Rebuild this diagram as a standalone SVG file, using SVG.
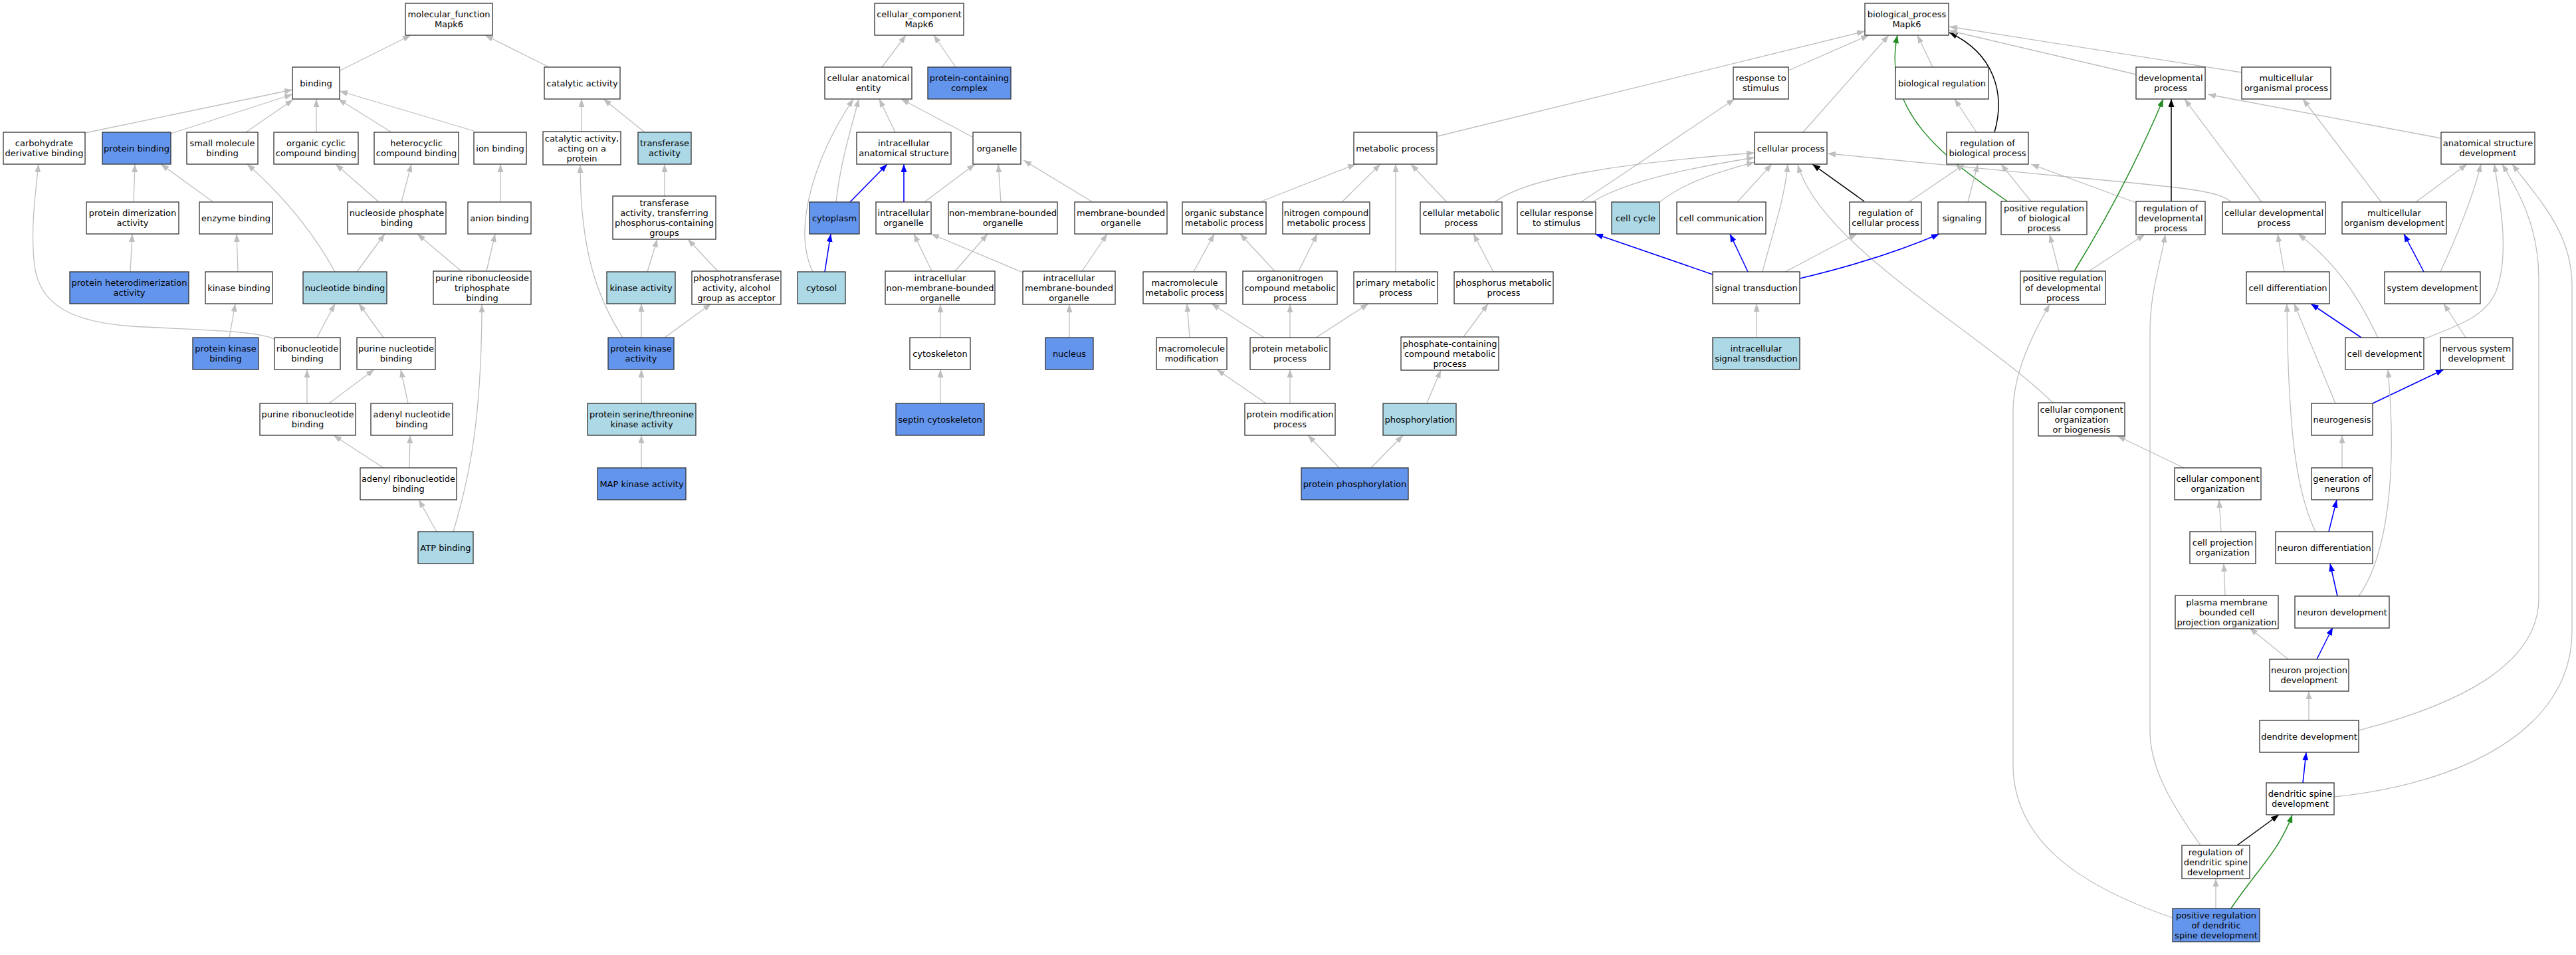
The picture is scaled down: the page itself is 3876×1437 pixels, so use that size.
<svg xmlns="http://www.w3.org/2000/svg" width="3876" height="1437" viewBox="0 0 3876 1437">
<style>
.nd rect{fill:#fff;stroke:#333;stroke-width:1.3}
.nd.b rect{fill:#6495ed}
.nd.l rect{fill:#add8e6}
text{font-family:"DejaVu Sans","Liberation Sans",sans-serif;font-size:13px;text-anchor:middle;fill:#000}
#edges path{fill:none;stroke:#bebebe;stroke-width:1.3;marker-end:url(#ag)}
#edges path.u{stroke:#0000ff;stroke-width:1.6;marker-end:url(#au)}
#edges path.k{stroke:#000;stroke-width:1.5;marker-end:url(#ak)}
#edges path.v{stroke:#228b22;stroke-width:1.5;marker-end:url(#av)}
</style>
<defs>
<marker id="ag" viewBox="0 0 12 9" refX="12" refY="4.5" markerWidth="12" markerHeight="9" markerUnits="userSpaceOnUse" orient="auto"><path d="M0,0 L12,4.5 L0,9 z" fill="#bebebe"/></marker>
<marker id="au" viewBox="0 0 12 9" refX="12" refY="4.5" markerWidth="12" markerHeight="9" markerUnits="userSpaceOnUse" orient="auto"><path d="M0,0 L12,4.5 L0,9 z" fill="#0000ff"/></marker>
<marker id="ak" viewBox="0 0 12 9" refX="12" refY="4.5" markerWidth="12" markerHeight="9" markerUnits="userSpaceOnUse" orient="auto"><path d="M0,0 L12,4.5 L0,9 z" fill="#000"/></marker>
<marker id="av" viewBox="0 0 12 9" refX="12" refY="4.5" markerWidth="12" markerHeight="9" markerUnits="userSpaceOnUse" orient="auto"><path d="M0,0 L12,4.5 L0,9 z" fill="#228b22"/></marker>
</defs>
<rect width="3876" height="1437" fill="#fff"/>
<g id="edges">
<path d="M512,106 L618,53"/>
<path d="M824,100 L730,53"/>
<path d="M128,200 L440,135"/>
<path d="M257,201 L440,142"/>
<path d="M370,199 L441,150"/>
<path d="M476,199 L476,149"/>
<path d="M589,199 L509,149"/>
<path d="M713,197 L511,137"/>
<path d="M875,198 L875,149"/>
<path d="M970,199 L908,149"/>
<path d="M201,304 L203,247"/>
<path d="M321,304 L242,247"/>
<path d="M570,304 L505,247"/>
<path d="M604,304 L619,247"/>
<path d="M753,304 L753,247"/>
<path d="M1000,295 L1000,247"/>
<path d="M196,409 L199,352"/>
<path d="M358,409 L356,352"/>
<path d="M504,409 Q455,320 372,247"/>
<path d="M537,409 L579,352"/>
<path d="M694,408 L628,352"/>
<path d="M732,408 L745,352"/>
<path d="M974,409 L989,360"/>
<path d="M1080,408 L1035,360"/>
<path d="M345,508 L354,457"/>
<path d="M477,508 L504,457"/>
<path d="M577,508 L540,457"/>
<path d="M414,511 C390,497 300,497 200,491 C110,485 60,460 52,400 C46,350 52,300 58,247"/>
<path d="M965,508 L965,457"/>
<path d="M1000,508 L1070,457"/>
<path d="M937,508 C900,450 873,380 873,248"/>
<path d="M462,607 L462,556"/>
<path d="M495,607 L563,556"/>
<path d="M614,607 L603,556"/>
<path d="M965,607 L965,556"/>
<path d="M577,704 L502,655"/>
<path d="M616,704 L617,655"/>
<path d="M965,704 L965,655"/>
<path d="M657,800 L630,752"/>
<path d="M682,800 C700,740 725,650 725,458"/>
<path d="M1327,101 L1363,53"/>
<path d="M1438,101 L1405,53"/>
<path d="M1347,199 L1323,149"/>
<path d="M1463,206 L1356,149"/>
<path d="M1258,304 C1265,240 1282,190 1292,149"/>
<path d="M1223,409 C1190,340 1230,230 1284,149"/>
<path class="u" d="M1279,304 L1335,247"/>
<path class="u" d="M1360,304 L1360,247"/>
<path d="M1391,304 L1467,247"/>
<path d="M1506,304 L1502,247"/>
<path d="M1644,304 L1540,241"/>
<path class="u" d="M1241,409 L1250,352"/>
<path d="M1402,408 L1375,352"/>
<path d="M1437,408 L1486,352"/>
<path d="M1539,410 L1401,352"/>
<path d="M1628,408 L1666,352"/>
<path d="M1415,508 L1415,458"/>
<path d="M1609,508 L1609,458"/>
<path d="M1415,607 L1415,556"/>
<path d="M2691,106 L2812,53"/>
<path d="M2163,205 L2806,47"/>
<path d="M2713,199 L2842,53"/>
<path d="M2908,101 L2885,53"/>
<path class="k" d="M3001,199 C3018,140 3000,80 2933,49"/>
<path class="v" d="M3022,304 C2930,240 2830,170 2855,53"/>
<path d="M3214,112 L2933,46"/>
<path d="M3373,109 L2933,40"/>
<path d="M1898,303 L2040,247"/>
<path d="M2020,303 L2077,247"/>
<path d="M2100,409 L2100,247"/>
<path d="M2176,303 L2123,247"/>
<path d="M2249,304 C2300,265 2450,245 2640,230"/>
<path d="M2379,304 L2610,149"/>
<path d="M2396,304 C2450,270 2560,250 2640,237"/>
<path d="M2497,304 C2540,270 2600,255 2640,244"/>
<path d="M2614,304 L2666,247"/>
<path d="M2652,409 C2670,340 2685,300 2690,247"/>
<path class="k" d="M2805,303 L2727,247"/>
<path d="M2872,304 L2956,247"/>
<path d="M2961,304 L2976,247"/>
<path d="M3056,303 L3011,247"/>
<path d="M3214,305 L3056,247"/>
<path d="M2974,199 L2941,149"/>
<path d="M3357,304 C3340,288 3300,283 3100,265 L2750,231"/>
<path d="M3403,304 L3287,149"/>
<path d="M3673,208 L3322,142"/>
<path class="k" d="M3267,303 L3267,149"/>
<path class="v" d="M3121,408 Q3200,280 3255,149"/>
<path d="M3583,304 L3465,149"/>
<path d="M3635,304 L3712,247"/>
<path class="u" d="M3647,409 L3617,352"/>
<path d="M3672,409 C3690,370 3720,300 3733,247"/>
<path d="M3437,409 L3427,352"/>
<path d="M3578,508 C3550,450 3520,400 3458,352"/>
<path class="u" d="M3553,508 L3477,457"/>
<path d="M3647,510 C3700,490 3740,475 3755,440 C3775,390 3765,320 3753,247"/>
<path d="M3710,508 L3677,457"/>
<path d="M3514,607 L3452,457"/>
<path class="u" d="M3570,607 L3677,556"/>
<path d="M3484,800 C3455,740 3443,650 3441,457"/>
<path d="M3524,704 L3524,655"/>
<path class="u" d="M3504,800 L3516,752"/>
<path class="u" d="M3517,897 L3506,848"/>
<path d="M3549,897 C3590,840 3608,720 3593,556"/>
<path class="u" d="M3486,992 L3510,944"/>
<path d="M3443,992 L3385,945"/>
<path d="M3474,1084 L3474,1040"/>
<path class="u" d="M3465,1178 L3470,1132"/>
<path class="k" d="M3366,1272 L3429,1226"/>
<path class="v" d="M3357,1367 C3395,1310 3430,1280 3449,1226"/>
<path d="M3334,1367 L3334,1322"/>
<path d="M3549,1099 C3700,1060 3820,1000 3820,900 L3820,420 C3820,340 3790,290 3765,247"/>
<path d="M3512,1199 C3700,1180 3870,1100 3870,950 L3870,430 C3870,350 3820,300 3780,247"/>
<path d="M3311,1272 C3260,1200 3235,1150 3235,1100 L3235,500 C3235,440 3250,400 3258,353"/>
<path d="M3269,1381 C3120,1330 3029,1260 3029,1150 L3029,620 C3029,560 3060,500 3084,458"/>
<path d="M3089,606 C2980,500 2740,370 2705,248"/>
<path d="M3286,704 L3186,656"/>
<path d="M3342,800 L3339,752"/>
<path d="M3348,896 L3346,848"/>
<path d="M3098,408 L3084,353"/>
<path d="M3143,408 L3227,353"/>
<path class="u" d="M2577,413 L2400,352"/>
<path class="u" d="M2630,409 L2603,352"/>
<path class="u" d="M2708,419 Q2830,390 2918,352"/>
<path d="M2686,409 L2794,352"/>
<path d="M2643,508 L2643,457"/>
<path d="M2247,409 L2217,352"/>
<path d="M1796,409 L1827,352"/>
<path d="M1918,408 L1866,352"/>
<path d="M1954,408 L1982,352"/>
<path d="M1790,508 L1786,457"/>
<path d="M1902,508 L1823,457"/>
<path d="M1941,508 L1941,458"/>
<path d="M1980,508 L2059,457"/>
<path d="M2202,507 L2239,457"/>
<path d="M1905,607 L1831,556"/>
<path d="M1941,607 L1941,556"/>
<path d="M2015,704 L1968,655"/>
<path d="M2063,704 L2111,655"/>
<path d="M2147,606 L2168,557"/>
</g>
<g id="n1" class="nd"><rect x="610" y="5" width="131" height="48"/><text x="675.5" y="26">molecular_function</text><text x="675.5" y="41">Mapk6</text></g>
<g id="n2" class="nd"><rect x="440" y="101" width="71" height="48"/><text x="475.5" y="129.5">binding</text></g>
<g id="n3" class="nd"><rect x="819" y="101" width="114" height="48"/><text x="876" y="129.5">catalytic activity</text></g>
<g id="n4" class="nd"><rect x="5" y="199" width="123" height="48"/><text x="66.5" y="220">carbohydrate</text><text x="66.5" y="235">derivative binding</text></g>
<g id="n5" class="nd b"><rect x="154" y="199" width="103" height="48"/><text x="205.5" y="227.5">protein binding</text></g>
<g id="n6" class="nd"><rect x="281" y="199" width="107" height="48"/><text x="334.5" y="220">small molecule</text><text x="334.5" y="235">binding</text></g>
<g id="n7" class="nd"><rect x="412" y="199" width="127" height="48"/><text x="475.5" y="220">organic cyclic</text><text x="475.5" y="235">compound binding</text></g>
<g id="n8" class="nd"><rect x="563" y="199" width="127" height="48"/><text x="626.5" y="220">heterocyclic</text><text x="626.5" y="235">compound binding</text></g>
<g id="n9" class="nd"><rect x="713" y="199" width="79" height="48"/><text x="752.5" y="227.5">ion binding</text></g>
<g id="n10" class="nd"><rect x="817" y="198" width="117" height="50"/><text x="875.5" y="212.5">catalytic activity,</text><text x="875.5" y="227.5">acting on a</text><text x="875.5" y="242.5">protein</text></g>
<g id="n11" class="nd l"><rect x="960" y="199" width="80" height="48"/><text x="1000" y="220">transferase</text><text x="1000" y="235">activity</text></g>
<g id="n12" class="nd"><rect x="130" y="304" width="139" height="48"/><text x="199.5" y="325">protein dimerization</text><text x="199.5" y="340">activity</text></g>
<g id="n13" class="nd"><rect x="300" y="304" width="110" height="48"/><text x="355" y="332.5">enzyme binding</text></g>
<g id="n14" class="nd"><rect x="523" y="304" width="148" height="48"/><text x="597" y="325">nucleoside phosphate</text><text x="597" y="340">binding</text></g>
<g id="n15" class="nd"><rect x="704" y="304" width="95" height="48"/><text x="751.5" y="332.5">anion binding</text></g>
<g id="n16" class="nd"><rect x="922" y="295" width="155" height="65"/><text x="999.5" y="309.5">transferase</text><text x="999.5" y="324.5">activity, transferring</text><text x="999.5" y="339.5">phosphorus-containing</text><text x="999.5" y="354.5">groups</text></g>
<g id="n17" class="nd b"><rect x="105" y="409" width="179" height="48"/><text x="194.5" y="430">protein heterodimerization</text><text x="194.5" y="445">activity</text></g>
<g id="n18" class="nd"><rect x="309" y="409" width="101" height="48"/><text x="359.5" y="437.5">kinase binding</text></g>
<g id="n19" class="nd l"><rect x="456" y="409" width="126" height="48"/><text x="519" y="437.5">nucleotide binding</text></g>
<g id="n20" class="nd"><rect x="652" y="408" width="147" height="50"/><text x="725.5" y="422.5">purine ribonucleoside</text><text x="725.5" y="437.5">triphosphate</text><text x="725.5" y="452.5">binding</text></g>
<g id="n21" class="nd l"><rect x="913" y="409" width="103" height="48"/><text x="964.5" y="437.5">kinase activity</text></g>
<g id="n22" class="nd"><rect x="1041" y="408" width="134" height="50"/><text x="1108" y="422.5">phosphotransferase</text><text x="1108" y="437.5">activity, alcohol</text><text x="1108" y="452.5">group as acceptor</text></g>
<g id="n23" class="nd b"><rect x="290" y="508" width="99" height="48"/><text x="339.5" y="529">protein kinase</text><text x="339.5" y="544">binding</text></g>
<g id="n24" class="nd"><rect x="413" y="508" width="99" height="48"/><text x="462.5" y="529">ribonucleotide</text><text x="462.5" y="544">binding</text></g>
<g id="n25" class="nd"><rect x="537" y="508" width="118" height="48"/><text x="596" y="529">purine nucleotide</text><text x="596" y="544">binding</text></g>
<g id="n26" class="nd b"><rect x="915" y="508" width="99" height="48"/><text x="964.5" y="529">protein kinase</text><text x="964.5" y="544">activity</text></g>
<g id="n27" class="nd"><rect x="391" y="607" width="144" height="48"/><text x="463" y="628">purine ribonucleotide</text><text x="463" y="643">binding</text></g>
<g id="n28" class="nd"><rect x="558" y="607" width="123" height="48"/><text x="619.5" y="628">adenyl nucleotide</text><text x="619.5" y="643">binding</text></g>
<g id="n29" class="nd l"><rect x="884" y="607" width="163" height="48"/><text x="965.5" y="628">protein serine/threonine</text><text x="965.5" y="643">kinase activity</text></g>
<g id="n30" class="nd"><rect x="542" y="704" width="145" height="48"/><text x="614.5" y="725">adenyl ribonucleotide</text><text x="614.5" y="740">binding</text></g>
<g id="n31" class="nd b"><rect x="899" y="704" width="133" height="48"/><text x="965.5" y="732.5">MAP kinase activity</text></g>
<g id="n32" class="nd l"><rect x="629" y="800" width="83" height="48"/><text x="670.5" y="828.5">ATP binding</text></g>
<g id="n33" class="nd"><rect x="1316" y="5" width="134" height="48"/><text x="1383" y="26">cellular_component</text><text x="1383" y="41">Mapk6</text></g>
<g id="n34" class="nd"><rect x="1241" y="101" width="131" height="48"/><text x="1306.5" y="122">cellular anatomical</text><text x="1306.5" y="137">entity</text></g>
<g id="n35" class="nd b"><rect x="1396" y="101" width="125" height="48"/><text x="1458.5" y="122">protein-containing</text><text x="1458.5" y="137">complex</text></g>
<g id="n36" class="nd"><rect x="1289" y="199" width="142" height="48"/><text x="1360" y="220">intracellular</text><text x="1360" y="235">anatomical structure</text></g>
<g id="n37" class="nd"><rect x="1464" y="199" width="72" height="48"/><text x="1500" y="227.5">organelle</text></g>
<g id="n38" class="nd b"><rect x="1218" y="304" width="75" height="48"/><text x="1255.5" y="332.5">cytoplasm</text></g>
<g id="n39" class="nd"><rect x="1318" y="304" width="83" height="48"/><text x="1359.5" y="325">intracellular</text><text x="1359.5" y="340">organelle</text></g>
<g id="n40" class="nd"><rect x="1427" y="304" width="164" height="48"/><text x="1509" y="325">non-membrane-bounded</text><text x="1509" y="340">organelle</text></g>
<g id="n41" class="nd"><rect x="1617" y="304" width="139" height="48"/><text x="1686.5" y="325">membrane-bounded</text><text x="1686.5" y="340">organelle</text></g>
<g id="n42" class="nd l"><rect x="1200" y="409" width="72" height="48"/><text x="1236" y="437.5">cytosol</text></g>
<g id="n43" class="nd"><rect x="1332" y="408" width="165" height="50"/><text x="1414.5" y="422.5">intracellular</text><text x="1414.5" y="437.5">non-membrane-bounded</text><text x="1414.5" y="452.5">organelle</text></g>
<g id="n44" class="nd"><rect x="1539" y="408" width="139" height="50"/><text x="1608.5" y="422.5">intracellular</text><text x="1608.5" y="437.5">membrane-bounded</text><text x="1608.5" y="452.5">organelle</text></g>
<g id="n45" class="nd"><rect x="1369" y="508" width="91" height="48"/><text x="1414.5" y="536.5">cytoskeleton</text></g>
<g id="n46" class="nd b"><rect x="1573" y="508" width="72" height="48"/><text x="1609" y="536.5">nucleus</text></g>
<g id="n47" class="nd b"><rect x="1348" y="607" width="133" height="48"/><text x="1414.5" y="635.5">septin cytoskeleton</text></g>
<g id="n48" class="nd"><rect x="2806" y="5" width="126" height="48"/><text x="2869" y="26">biological_process</text><text x="2869" y="41">Mapk6</text></g>
<g id="n49" class="nd"><rect x="2608" y="101" width="83" height="48"/><text x="2649.5" y="122">response to</text><text x="2649.5" y="137">stimulus</text></g>
<g id="n50" class="nd"><rect x="2852" y="101" width="140" height="48"/><text x="2922" y="129.5">biological regulation</text></g>
<g id="n51" class="nd"><rect x="3214" y="101" width="104" height="48"/><text x="3266" y="122">developmental</text><text x="3266" y="137">process</text></g>
<g id="n52" class="nd"><rect x="3373" y="101" width="134" height="48"/><text x="3440" y="122">multicellular</text><text x="3440" y="137">organismal process</text></g>
<g id="n53" class="nd"><rect x="2037" y="199" width="125" height="48"/><text x="2099.5" y="227.5">metabolic process</text></g>
<g id="n54" class="nd"><rect x="2640" y="199" width="109" height="48"/><text x="2694.5" y="227.5">cellular process</text></g>
<g id="n55" class="nd"><rect x="2929" y="199" width="123" height="48"/><text x="2990.5" y="220">regulation of</text><text x="2990.5" y="235">biological process</text></g>
<g id="n56" class="nd"><rect x="3673" y="199" width="141" height="48"/><text x="3743.5" y="220">anatomical structure</text><text x="3743.5" y="235">development</text></g>
<g id="n57" class="nd"><rect x="1779" y="304" width="126" height="48"/><text x="1842" y="325">organic substance</text><text x="1842" y="340">metabolic process</text></g>
<g id="n58" class="nd"><rect x="1930" y="304" width="131" height="48"/><text x="1995.5" y="325">nitrogen compound</text><text x="1995.5" y="340">metabolic process</text></g>
<g id="n59" class="nd"><rect x="2137" y="304" width="123" height="48"/><text x="2198.5" y="325">cellular metabolic</text><text x="2198.5" y="340">process</text></g>
<g id="n60" class="nd"><rect x="2283" y="304" width="118" height="48"/><text x="2342" y="325">cellular response</text><text x="2342" y="340">to stimulus</text></g>
<g id="n61" class="nd l"><rect x="2425" y="304" width="72" height="48"/><text x="2461" y="332.5">cell cycle</text></g>
<g id="n62" class="nd"><rect x="2523" y="304" width="134" height="48"/><text x="2590" y="332.5">cell communication</text></g>
<g id="n63" class="nd"><rect x="2783" y="304" width="108" height="48"/><text x="2837" y="325">regulation of</text><text x="2837" y="340">cellular process</text></g>
<g id="n64" class="nd"><rect x="2916" y="304" width="72" height="48"/><text x="2952" y="332.5">signaling</text></g>
<g id="n65" class="nd"><rect x="3011" y="303" width="129" height="50"/><text x="3075.5" y="317.5">positive regulation</text><text x="3075.5" y="332.5">of biological</text><text x="3075.5" y="347.5">process</text></g>
<g id="n66" class="nd"><rect x="3214" y="303" width="104" height="50"/><text x="3266" y="317.5">regulation of</text><text x="3266" y="332.5">developmental</text><text x="3266" y="347.5">process</text></g>
<g id="n67" class="nd"><rect x="3344" y="304" width="155" height="48"/><text x="3421.5" y="325">cellular developmental</text><text x="3421.5" y="340">process</text></g>
<g id="n68" class="nd"><rect x="3524" y="304" width="157" height="48"/><text x="3602.5" y="325">multicellular</text><text x="3602.5" y="340">organism development</text></g>
<g id="n69" class="nd"><rect x="1720" y="409" width="125" height="48"/><text x="1782.5" y="430">macromolecule</text><text x="1782.5" y="445">metabolic process</text></g>
<g id="n70" class="nd"><rect x="1870" y="408" width="142" height="50"/><text x="1941" y="422.5">organonitrogen</text><text x="1941" y="437.5">compound metabolic</text><text x="1941" y="452.5">process</text></g>
<g id="n71" class="nd"><rect x="2037" y="409" width="126" height="48"/><text x="2100" y="430">primary metabolic</text><text x="2100" y="445">process</text></g>
<g id="n72" class="nd"><rect x="2188" y="409" width="149" height="48"/><text x="2262.5" y="430">phosphorus metabolic</text><text x="2262.5" y="445">process</text></g>
<g id="n73" class="nd"><rect x="2577" y="409" width="131" height="48"/><text x="2642.5" y="437.5">signal transduction</text></g>
<g id="n74" class="nd"><rect x="3040" y="408" width="128" height="50"/><text x="3104" y="422.5">positive regulation</text><text x="3104" y="437.5">of developmental</text><text x="3104" y="452.5">process</text></g>
<g id="n75" class="nd"><rect x="3380" y="409" width="125" height="48"/><text x="3442.5" y="437.5">cell differentiation</text></g>
<g id="n76" class="nd"><rect x="3588" y="409" width="144" height="48"/><text x="3660" y="437.5">system development</text></g>
<g id="n77" class="nd"><rect x="1740" y="508" width="106" height="48"/><text x="1793" y="529">macromolecule</text><text x="1793" y="544">modification</text></g>
<g id="n78" class="nd"><rect x="1881" y="508" width="120" height="48"/><text x="1941" y="529">protein metabolic</text><text x="1941" y="544">process</text></g>
<g id="n79" class="nd"><rect x="2108" y="507" width="147" height="50"/><text x="2181.5" y="521.5">phosphate-containing</text><text x="2181.5" y="536.5">compound metabolic</text><text x="2181.5" y="551.5">process</text></g>
<g id="n80" class="nd l"><rect x="2577" y="508" width="131" height="48"/><text x="2642.5" y="529">intracellular</text><text x="2642.5" y="544">signal transduction</text></g>
<g id="n81" class="nd"><rect x="3529" y="508" width="118" height="48"/><text x="3588" y="536.5">cell development</text></g>
<g id="n82" class="nd"><rect x="3672" y="508" width="109" height="48"/><text x="3726.5" y="529">nervous system</text><text x="3726.5" y="544">development</text></g>
<g id="n83" class="nd"><rect x="1873" y="607" width="136" height="48"/><text x="1941" y="628">protein modification</text><text x="1941" y="643">process</text></g>
<g id="n84" class="nd l"><rect x="2081" y="607" width="110" height="48"/><text x="2136" y="635.5">phosphorylation</text></g>
<g id="n85" class="nd"><rect x="3067" y="606" width="130" height="50"/><text x="3132" y="620.5">cellular component</text><text x="3132" y="635.5">organization</text><text x="3132" y="650.5">or biogenesis</text></g>
<g id="n86" class="nd"><rect x="3478" y="607" width="92" height="48"/><text x="3524" y="635.5">neurogenesis</text></g>
<g id="n87" class="nd b"><rect x="1958" y="704" width="161" height="48"/><text x="2038.5" y="732.5">protein phosphorylation</text></g>
<g id="n88" class="nd"><rect x="3272" y="704" width="130" height="48"/><text x="3337" y="725">cellular component</text><text x="3337" y="740">organization</text></g>
<g id="n89" class="nd"><rect x="3478" y="704" width="92" height="48"/><text x="3524" y="725">generation of</text><text x="3524" y="740">neurons</text></g>
<g id="n90" class="nd"><rect x="3295" y="800" width="99" height="48"/><text x="3344.5" y="821">cell projection</text><text x="3344.5" y="836">organization</text></g>
<g id="n91" class="nd"><rect x="3424" y="800" width="146" height="48"/><text x="3497" y="828.5">neuron differentiation</text></g>
<g id="n92" class="nd"><rect x="3273" y="896" width="155" height="50"/><text x="3350.5" y="910.5">plasma membrane</text><text x="3350.5" y="925.5">bounded cell</text><text x="3350.5" y="940.5">projection organization</text></g>
<g id="n93" class="nd"><rect x="3453" y="897" width="142" height="48"/><text x="3524" y="925.5">neuron development</text></g>
<g id="n94" class="nd"><rect x="3415" y="992" width="119" height="48"/><text x="3474.5" y="1013">neuron projection</text><text x="3474.5" y="1028">development</text></g>
<g id="n95" class="nd"><rect x="3400" y="1084" width="149" height="48"/><text x="3474.5" y="1112.5">dendrite development</text></g>
<g id="n96" class="nd"><rect x="3410" y="1178" width="102" height="48"/><text x="3461" y="1199">dendritic spine</text><text x="3461" y="1214">development</text></g>
<g id="n97" class="nd"><rect x="3283" y="1272" width="102" height="50"/><text x="3334" y="1286.5">regulation of</text><text x="3334" y="1301.5">dendritic spine</text><text x="3334" y="1316.5">development</text></g>
<g id="n98" class="nd b"><rect x="3269" y="1367" width="131" height="50"/><text x="3334.5" y="1381.5">positive regulation</text><text x="3334.5" y="1396.5">of dendritic</text><text x="3334.5" y="1411.5">spine development</text></g>
</svg>
